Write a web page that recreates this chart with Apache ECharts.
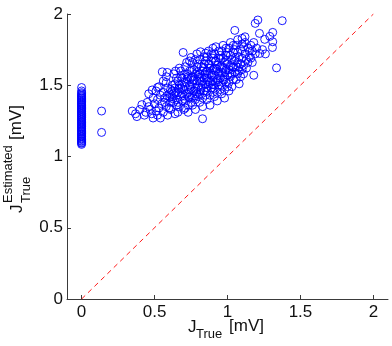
<!DOCTYPE html>
<html>
<head>
<meta charset="utf-8">
<script src="https://cdn.jsdelivr.net/npm/echarts@6/dist/echarts.min.js"></script>
<style>
html,body{margin:0;padding:0;background:#fff;}
#c{width:392px;height:346px;}
</style>
</head>
<body>
<div id="c"></div>
<script>
// ---- data ----
var xTickValues = [0, 0.5, 1, 1.5, 2];
var yTickValues = [0, 0.5, 1, 1.5, 2];
var xTickLabels = ['0', '0.5', '1', '1.5', '2'];
var yTickLabels = ['0', '0.5', '1', '1.5', '2'];

// estimates for sources with J_True = 0
var zeroColumnY = [1.085,1.093,1.098,1.106,1.111,1.119,1.124,1.13,1.138,1.142,1.15,1.157,1.161,1.169,1.175,1.181,1.186,1.194,1.2,1.207,1.211,1.219,1.226,1.23,1.238,1.244,1.249,1.257,1.262,1.27,1.274,1.282,1.288,1.293,1.301,1.305,1.313,1.318,1.326,1.331,1.337,1.344,1.349,1.357,1.362,1.368,1.375,1.381,1.386,1.394,1.399,1.406,1.412,1.419,1.425,1.432,1.44,1.448,1.46,1.484];

// estimates for sources with J_True > 0  [J_True, J_Estimated]
var clusterPts = [
[0.137,1.319],[0.137,1.169],
[0.347,1.319],[0.379,1.28],[0.37,1.30],[0.413,1.364],[0.44,1.31],[0.40,1.33],[0.43,1.29],[0.45,1.38],
[0.46,1.44],[0.484,1.467],[0.47,1.33],[0.49,1.41],[0.48,1.30],[0.50,1.37],[0.46,1.35],[0.49,1.27],[0.52,1.484],
[0.51,1.46],[0.52,1.40],[0.53,1.34],[0.52,1.29],[0.54,1.43],[0.553,1.594],[0.53,1.49],[0.55,1.37],[0.51,1.32],[0.54,1.27],
[0.56,1.45],[0.57,1.41],[0.58,1.35],[0.56,1.31],[0.59,1.48],[0.58,1.52],[0.57,1.38],[0.60,1.44],[0.59,1.29],[0.587,1.59],[0.58,1.56],[0.56,1.53],[0.60,1.34],
[0.61,1.47],[0.62,1.42],[0.63,1.38],[0.61,1.33],[0.64,1.51],[0.632,1.58],[0.62,1.46],[0.65,1.40],[0.64,1.30],[0.644,1.60],[0.65,1.36],[0.63,1.44],[0.62,1.50],[0.64,1.48],[0.61,1.38],[0.65,1.55],
[0.66,1.45],[0.67,1.50],[0.68,1.42],[0.66,1.38],[0.69,1.55],[0.67,1.35],[0.70,1.47],[0.68,1.60],[0.69,1.39],[0.66,1.53],[0.696,1.73],[0.67,1.62],[0.70,1.33],[0.68,1.48],[0.69,1.44],[0.66,1.31],[0.70,1.52],[0.68,1.56],
[0.71,1.49],[0.72,1.44],[0.73,1.56],[0.71,1.40],[0.74,1.60],[0.72,1.52],[0.75,1.47],[0.73,1.36],[0.74,1.42],[0.71,1.63],[0.75,1.55],[0.72,1.66],[0.74,1.50],[0.73,1.45],[0.71,1.34],[0.75,1.38],[0.72,1.58],[0.74,1.67],[0.75,1.695],[0.73,1.31],
[0.76,1.51],[0.77,1.46],[0.78,1.58],[0.76,1.42],[0.79,1.63],[0.77,1.54],[0.80,1.49],[0.78,1.40],[0.79,1.44],[0.76,1.66],[0.80,1.57],[0.79,1.72],[0.79,1.53],[0.78,1.48],[0.76,1.36],[0.80,1.42],[0.77,1.61],[0.78,1.68],[0.80,1.65],[0.78,1.33],[0.76,1.56],[0.815,1.735],
[0.81,1.53],[0.82,1.48],[0.83,1.60],[0.81,1.44],[0.84,1.65],[0.82,1.56],[0.85,1.51],[0.83,1.41],[0.84,1.46],[0.81,1.68],[0.85,1.59],[0.85,1.725],[0.84,1.55],[0.83,1.50],[0.81,1.38],[0.85,1.43],[0.82,1.63],[0.84,1.70],[0.85,1.67],[0.829,1.265],[0.81,1.58],[0.83,1.35],
[0.86,1.55],[0.87,1.50],[0.88,1.62],[0.86,1.46],[0.89,1.67],[0.87,1.58],[0.90,1.53],[0.88,1.43],[0.89,1.48],[0.86,1.70],[0.90,1.61],[0.87,1.74],[0.89,1.57],[0.88,1.52],[0.86,1.40],[0.90,1.45],[0.87,1.65],[0.89,1.72],[0.90,1.69],[0.88,1.36],[0.86,1.60],[0.90,1.76],
[0.91,1.57],[0.92,1.52],[0.93,1.64],[0.91,1.48],[0.94,1.69],[0.92,1.60],[0.95,1.55],[0.93,1.45],[0.94,1.50],[0.91,1.72],[0.95,1.63],[0.92,1.77],[0.94,1.59],[0.93,1.54],[0.91,1.42],[0.95,1.47],[0.92,1.67],[0.94,1.74],[0.95,1.71],[0.93,1.39],[0.91,1.62],
[0.96,1.59],[0.97,1.54],[0.98,1.66],[0.96,1.50],[0.99,1.71],[0.97,1.62],[1.00,1.57],[0.98,1.47],[0.99,1.52],[0.96,1.74],[1.00,1.65],[0.97,1.78],[0.99,1.61],[0.98,1.56],[0.96,1.44],[1.00,1.49],[0.97,1.69],[0.99,1.76],[1.00,1.73],[0.98,1.41],
[1.01,1.61],[1.02,1.56],[1.03,1.68],[1.01,1.52],[1.04,1.73],[1.02,1.64],[1.05,1.59],[1.03,1.49],[1.04,1.54],[1.01,1.76],[1.05,1.67],[1.02,1.80],[1.04,1.63],[1.03,1.58],[1.01,1.46],[1.05,1.885],[1.02,1.71],[1.04,1.78],[1.05,1.75],
[1.06,1.63],[1.07,1.58],[1.08,1.70],[1.06,1.54],[1.09,1.75],[1.07,1.66],[1.10,1.61],[1.08,1.51],[1.09,1.56],[1.06,1.78],[1.10,1.69],[1.07,1.82],[1.09,1.65],[1.08,1.60],[1.10,1.829],[1.10,1.79],[1.07,1.73],
[1.11,1.64],[1.12,1.72],[1.13,1.68],[1.11,1.58],[1.14,1.76],[1.12,1.80],[1.15,1.70],[1.13,1.62],[1.14,1.66],[1.11,1.77],[1.15,1.74],[1.12,1.84],
[1.16,1.69],[1.17,1.74],[1.18,1.57],[1.16,1.78],[1.19,1.72],[1.18,1.80],[1.20,1.76],[1.17,1.66],[1.19,1.934],[1.208,1.958],[1.219,1.864],[1.221,1.723],
[1.255,1.822],[1.29,1.843],[1.31,1.871],[1.31,1.805],[1.308,1.765],[1.336,1.622],[1.375,1.953],[1.24,1.75],[1.26,1.72],
// denser core
[0.665,1.475],[0.685,1.505],[0.705,1.425],[0.725,1.545],[0.745,1.485],[0.765,1.535],[0.785,1.455],[0.805,1.555],[0.825,1.525],[0.845,1.575],
[0.865,1.525],[0.885,1.585],[0.905,1.505],[0.925,1.615],[0.945,1.565],[0.965,1.625],[0.985,1.595],[0.705,1.575],[0.755,1.605],[0.795,1.595],
[0.835,1.625],[0.875,1.645],[0.915,1.665],[0.955,1.685],[0.995,1.675],[0.735,1.415],[0.775,1.425],[0.815,1.465],[0.855,1.485],[0.895,1.505],
[0.935,1.525],[0.975,1.535],[1.015,1.585],[1.035,1.625],[1.055,1.695],[1.075,1.625],[0.625,1.405],[0.645,1.445],[0.605,1.415],[0.585,1.425]
];
var identityLine = [[0, 0], [2, 2]];

// ---- chart ----
var scatterData = zeroColumnY.map(function (v) { return [0, v]; }).concat(clusterPts);
var FONT = '"Liberation Sans", Arial, Helvetica, sans-serif';
var chart = echarts.init(document.getElementById('c'), null, {renderer: 'canvas'});
var axisCommon = {
  axisLine: {show: true, onZero: false, lineStyle: {color: '#3a3a3a', width: 1}},
  axisTick: {show: true, inside: true, length: 4, lineStyle: {color: '#3a3a3a', width: 1}},
  splitLine: {show: false}
};
function txt(x, y, s, size) {
  return {type: 'text', x: x, y: y, style: {text: s, font: size + 'px ' + FONT, fill: '#111', align: 'left', verticalAlign: 'top'}};
}
chart.setOption({
  animation: false,
  backgroundColor: '#ffffff',
  grid: {left: 67, right: 4, top: 14, bottom: 47, containLabel: false},
  xAxis: Object.assign({}, axisCommon, {
    type: 'value', min: -0.1, max: 2.1,
    axisTick: Object.assign({}, axisCommon.axisTick, {customValues: xTickValues}),
    axisLabel: {
      customValues: xTickValues, margin: 5, color: '#111', fontSize: 17, fontFamily: FONT,
      formatter: function (v) { return xTickLabels[xTickValues.indexOf(v)]; }
    }
  }),
  yAxis: Object.assign({}, axisCommon, {
    type: 'value', min: 0, max: 2, interval: 0.5,
    axisLabel: {
      margin: 4, color: '#111', fontSize: 17, fontFamily: FONT,
      formatter: function (v) { var i = yTickValues.indexOf(v); return i >= 0 ? yTickLabels[i] : ''; }
    }
  }),
  series: [
    {
      type: 'scatter', data: scatterData, symbol: 'circle', symbolSize: 8,
      itemStyle: {color: 'rgba(0,0,0,0)', borderColor: '#0000ff', borderWidth: 1, opacity: 0.9},
      emphasis: {disabled: true}
    },
    {
      type: 'line', data: identityLine, symbol: 'none',
      lineStyle: {color: '#ff1a1a', width: 1, type: [5, 4]},
      emphasis: {disabled: true}
    }
  ],
  graphic: [
    // x-axis title: J_True [mV]
    txt(188, 319, 'J', 17),
    txt(196, 328, 'True', 13),
    txt(229, 318, '[mV]', 17),
    // y-axis title: J^Estimated_True [mV], rotated
    {
      type: 'group', x: 0, y: 0, rotation: Math.PI / 2,
      children: [
        txt(-213, 9, 'J', 17),
        txt(-203, 2, 'Estimated', 13),
        txt(-203, 20, 'True', 13),
        txt(-140, 8, '[mV]', 17)
      ]
    }
  ]
});
</script>
</body>
</html>
